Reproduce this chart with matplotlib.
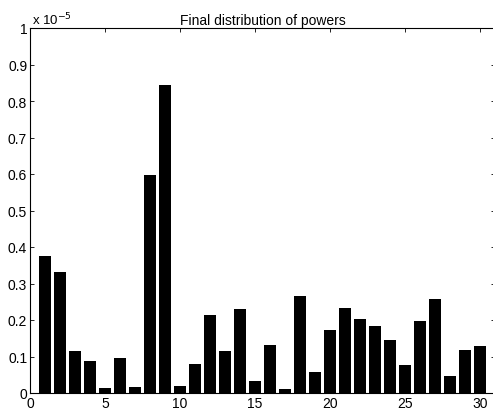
import matplotlib.pyplot as plt
from matplotlib.ticker import FormatStrFormatter

plt.rcParams['font.family'] = ['Liberation Sans', 'DejaVu Sans']

# bar index and final power of each element (in units of 1e-5)
elements = list(range(1, 31))
powers = [0.374, 0.331, 0.114, 0.088, 0.014, 0.096, 0.016, 0.597, 0.845, 0.018,
          0.079, 0.213, 0.114, 0.231, 0.033, 0.132, 0.012, 0.267, 0.058, 0.173,
          0.233, 0.203, 0.184, 0.145, 0.077, 0.197, 0.258, 0.047, 0.119, 0.128]
x_ticks = [0, 5, 10, 15, 20, 25, 30]
y_ticks = [0, 0.1, 0.2, 0.3, 0.4, 0.5, 0.6, 0.7, 0.8, 0.9, 1]

fig = plt.figure(figsize=(4.93, 4.14), dpi=100)
ax = fig.add_axes([30 / 493, 20 / 414, 465 / 493, 365 / 414])

ax.bar(elements, powers, width=0.82, color='black')

ax.set_xlim(0, 31)
ax.set_ylim(0, 1)
ax.set_xticks(x_ticks)
ax.set_yticks(y_ticks)
ax.yaxis.set_major_formatter(FormatStrFormatter('%g'))
ax.tick_params(direction='in', length=3, width=0.6, labelsize=10,
               top=True, right=True, pad=2)
for s in ax.spines.values():
    s.set_linewidth(0.8)

ax.set_title('Final distribution of powers', fontsize=10, pad=3)
ax.text(0.005, 1.003, r'x 10$^{-5}$', transform=ax.transAxes,
        fontsize=9.5, ha='left', va='bottom')

fig.savefig('out.png', dpi=100)
